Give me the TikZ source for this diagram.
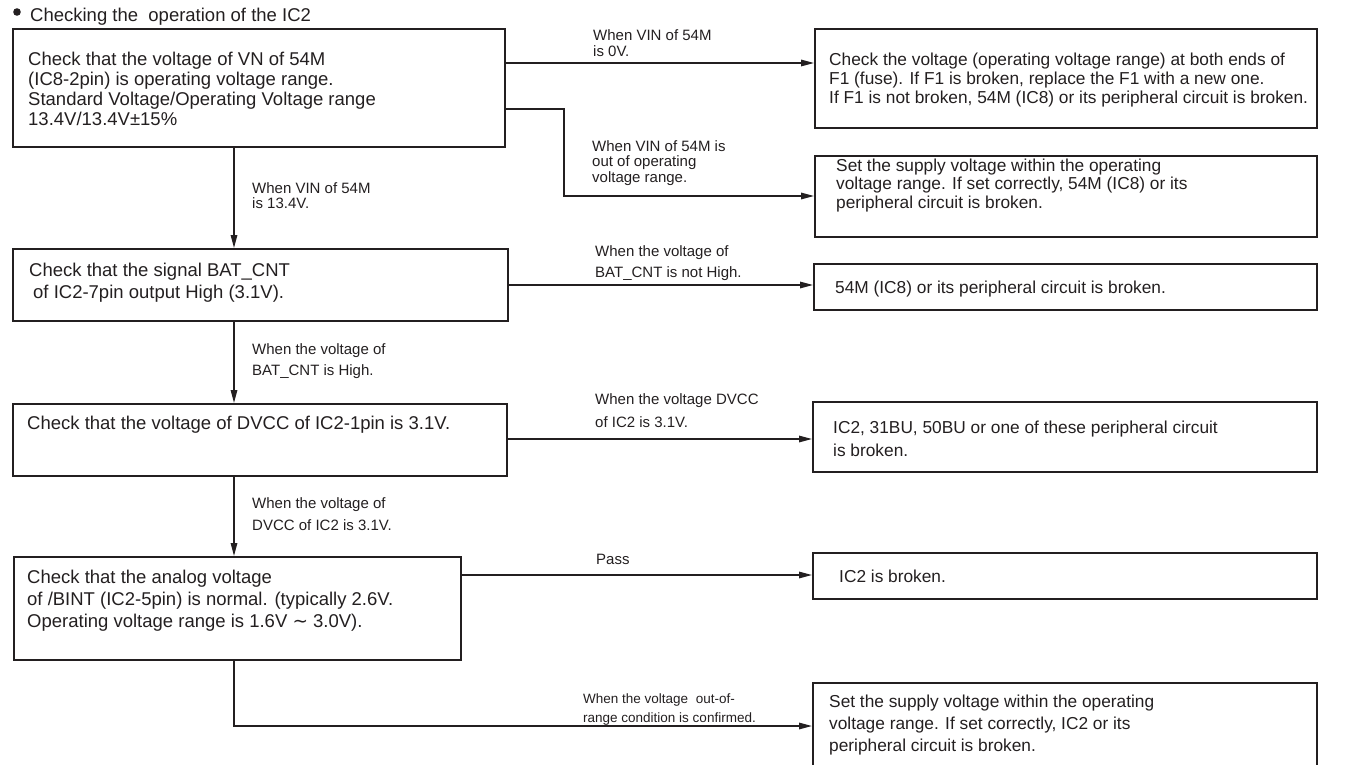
\documentclass[tikz,border=0pt]{standalone}
\usepackage{fontspec}
\setmainfont{Liberation Sans}
\newfontfamily\djv{DejaVu Sans}
\usetikzlibrary{arrows.meta}
\definecolor{ink}{HTML}{231F20}
\begin{document}
\begin{tikzpicture}[x=1pt,y=-1pt,
  box/.style={draw=ink, line width=1.6pt, inner sep=0pt, anchor=north west},
  ltxt/.style={text=ink, anchor=base west, align=left, inner sep=0pt, font=\fontsize{18.5}{19.7}\selectfont},
  rtxt/.style={text=ink, anchor=base west, align=left, inner sep=0pt, font=\fontsize{17.3}{19}\selectfont},
  lbl/.style={text=ink, anchor=base west, align=left, inner sep=0pt, font=\fontsize{15}{16}\selectfont},
  arr/.style={draw=ink, line width=1.5pt, -{Triangle[length=13pt,width=6.5pt]}}]
\useasboundingbox (0,0) rectangle (1362,765);
% heading
\fill[ink] (17,12) circle (3.8pt);
\node[ltxt] (head) at (30,22) {Checking the\ \ operation of the IC2};
% left boxes
\node[box, minimum width=492pt, minimum height=118pt] (b1) at (12,28) {};
\node[box, minimum width=495pt, minimum height=72pt] (b2) at (12,248) {};
\node[box, minimum width=494pt, minimum height=72pt] (b3) at (12,403) {};
\node[box, minimum width=447pt, minimum height=103pt] (b4) at (13,556) {};
% right boxes
\node[box, minimum width=502pt, minimum height=99pt] (r1) at (814,28) {};
\node[box, minimum width=502pt, minimum height=81pt] (r2) at (814,155) {};
\node[box, minimum width=503pt, minimum height=46pt] (r3) at (813,263) {};
\node[box, minimum width=504pt, minimum height=70pt] (r4) at (812,401) {};
\node[box, minimum width=504pt, minimum height=46pt] (r5) at (812,552) {};
\node[box, minimum width=504pt, minimum height=100pt] (r6) at (812,682) {};
% box texts (anchor = baseline of last line)
\node[ltxt] (b1t) at (28,125) {Check that the voltage of VN of 54M\\(IC8-2pin) is operating voltage range.\\Standard Voltage/Operating Voltage range\\13.4V/13.4V\char"00B1 15\%};
\node[ltxt, font=\fontsize{18.5}{22}\selectfont] (b2t) at (29,298) {Check that the signal BAT\_CNT\\\hspace{4pt}of IC2-7pin output High (3.1V).};
\node[ltxt] (b3t) at (27,429) {Check that the voltage of DVCC of IC2-1pin is 3.1V.};
\node[ltxt, font=\fontsize{18.5}{22}\selectfont] (b4t) at (27,627) {Check that the analog voltage\\of /BINT (IC2-5pin) is normal. (typically 2.6V.\\Operating voltage range is 1.6V {\djv\char"223C} 3.0V).};
\node[rtxt] (r1t) at (829,104) {Check the voltage (operating voltage range) at both ends of\\F1 (fuse). If F1 is broken, replace the F1 with a new one.\\If F1 is not broken, 54M (IC8) or its peripheral circuit is broken.};
\node[rtxt, font=\fontsize{17.3}{18.5}\selectfont] (r2t) at (836,208) {Set the supply voltage within the operating\\voltage range. If set correctly, 54M (IC8) or its\\peripheral circuit is broken.};
\node[rtxt] (r3t) at (835,293) {54M (IC8) or its peripheral circuit is broken.};
\node[rtxt, font=\fontsize{17.3}{23}\selectfont] (r4t) at (833,456) {IC2, 31BU, 50BU or one of these peripheral circuit\\is broken.};
\node[rtxt] (r5t) at (839,582) {IC2 is broken.};
\node[rtxt, font=\fontsize{17.3}{22}\selectfont] (r6t) at (829,751) {Set the supply voltage within the operating\\voltage range. If set correctly, IC2 or its\\peripheral circuit is broken.};
% connector labels
\node[lbl] (l1) at (593,57) {When VIN of 54M\\is 0V.};
\node[lbl, font=\fontsize{15}{15.5}\selectfont] (l2) at (592,182) {When VIN of 54M is\\out of operating\\voltage range.};
\node[lbl, font=\fontsize{15}{15}\selectfont] (l3) at (252,208) {When VIN of 54M\\is 13.4V.};
\node[lbl, font=\fontsize{15}{21}\selectfont] (l4) at (252,375) {When the voltage of\\BAT\_CNT is High.};
\node[lbl, font=\fontsize{15}{21}\selectfont] (l5) at (595,277) {When the voltage of\\BAT\_CNT is not High.};
\node[lbl, font=\fontsize{15}{23}\selectfont] (l6) at (595,427) {When the voltage DVCC\\of IC2 is 3.1V.};
\node[lbl, font=\fontsize{15}{22}\selectfont] (l7) at (252,530) {When the voltage of\\DVCC of IC2 is 3.1V.};
\node[lbl] (l8) at (596,564) {Pass};
\node[lbl, font=\fontsize{13.5}{19}\selectfont] (l9) at (583,722) {When the voltage\ \ out-of-\\range condition is confirmed.};
% vertical arrows
\draw[arr] (b1.south -| 234,0) -- (b2.north -| 234,0);
\draw[arr] (b2.south -| 234,0) -- (b3.north -| 234,0);
\draw[arr] (b3.south -| 234,0) -- (b4.north -| 234,0);
% horizontal arrows
\draw[arr] (b1.east |- 0,63) -- (r1.west |- 0,63);
\coordinate (c2) at (564,109);
\draw[arr] (b1.east |- c2) -- (c2) |- (r2.west |- 0,196);
\draw[arr] (b2.east |- 0,285) -- (r3.west |- 0,285);
\draw[arr] (b3.east |- 0,439) -- (r4.west |- 0,439);
\draw[arr] (b4.east |- 0,575) -- (r5.west |- 0,575);
\coordinate (c6) at (234,726);
\draw[arr] (b4.south -| c6) -- (c6) -- (r6.west |- c6);
\end{tikzpicture}
\end{document}
